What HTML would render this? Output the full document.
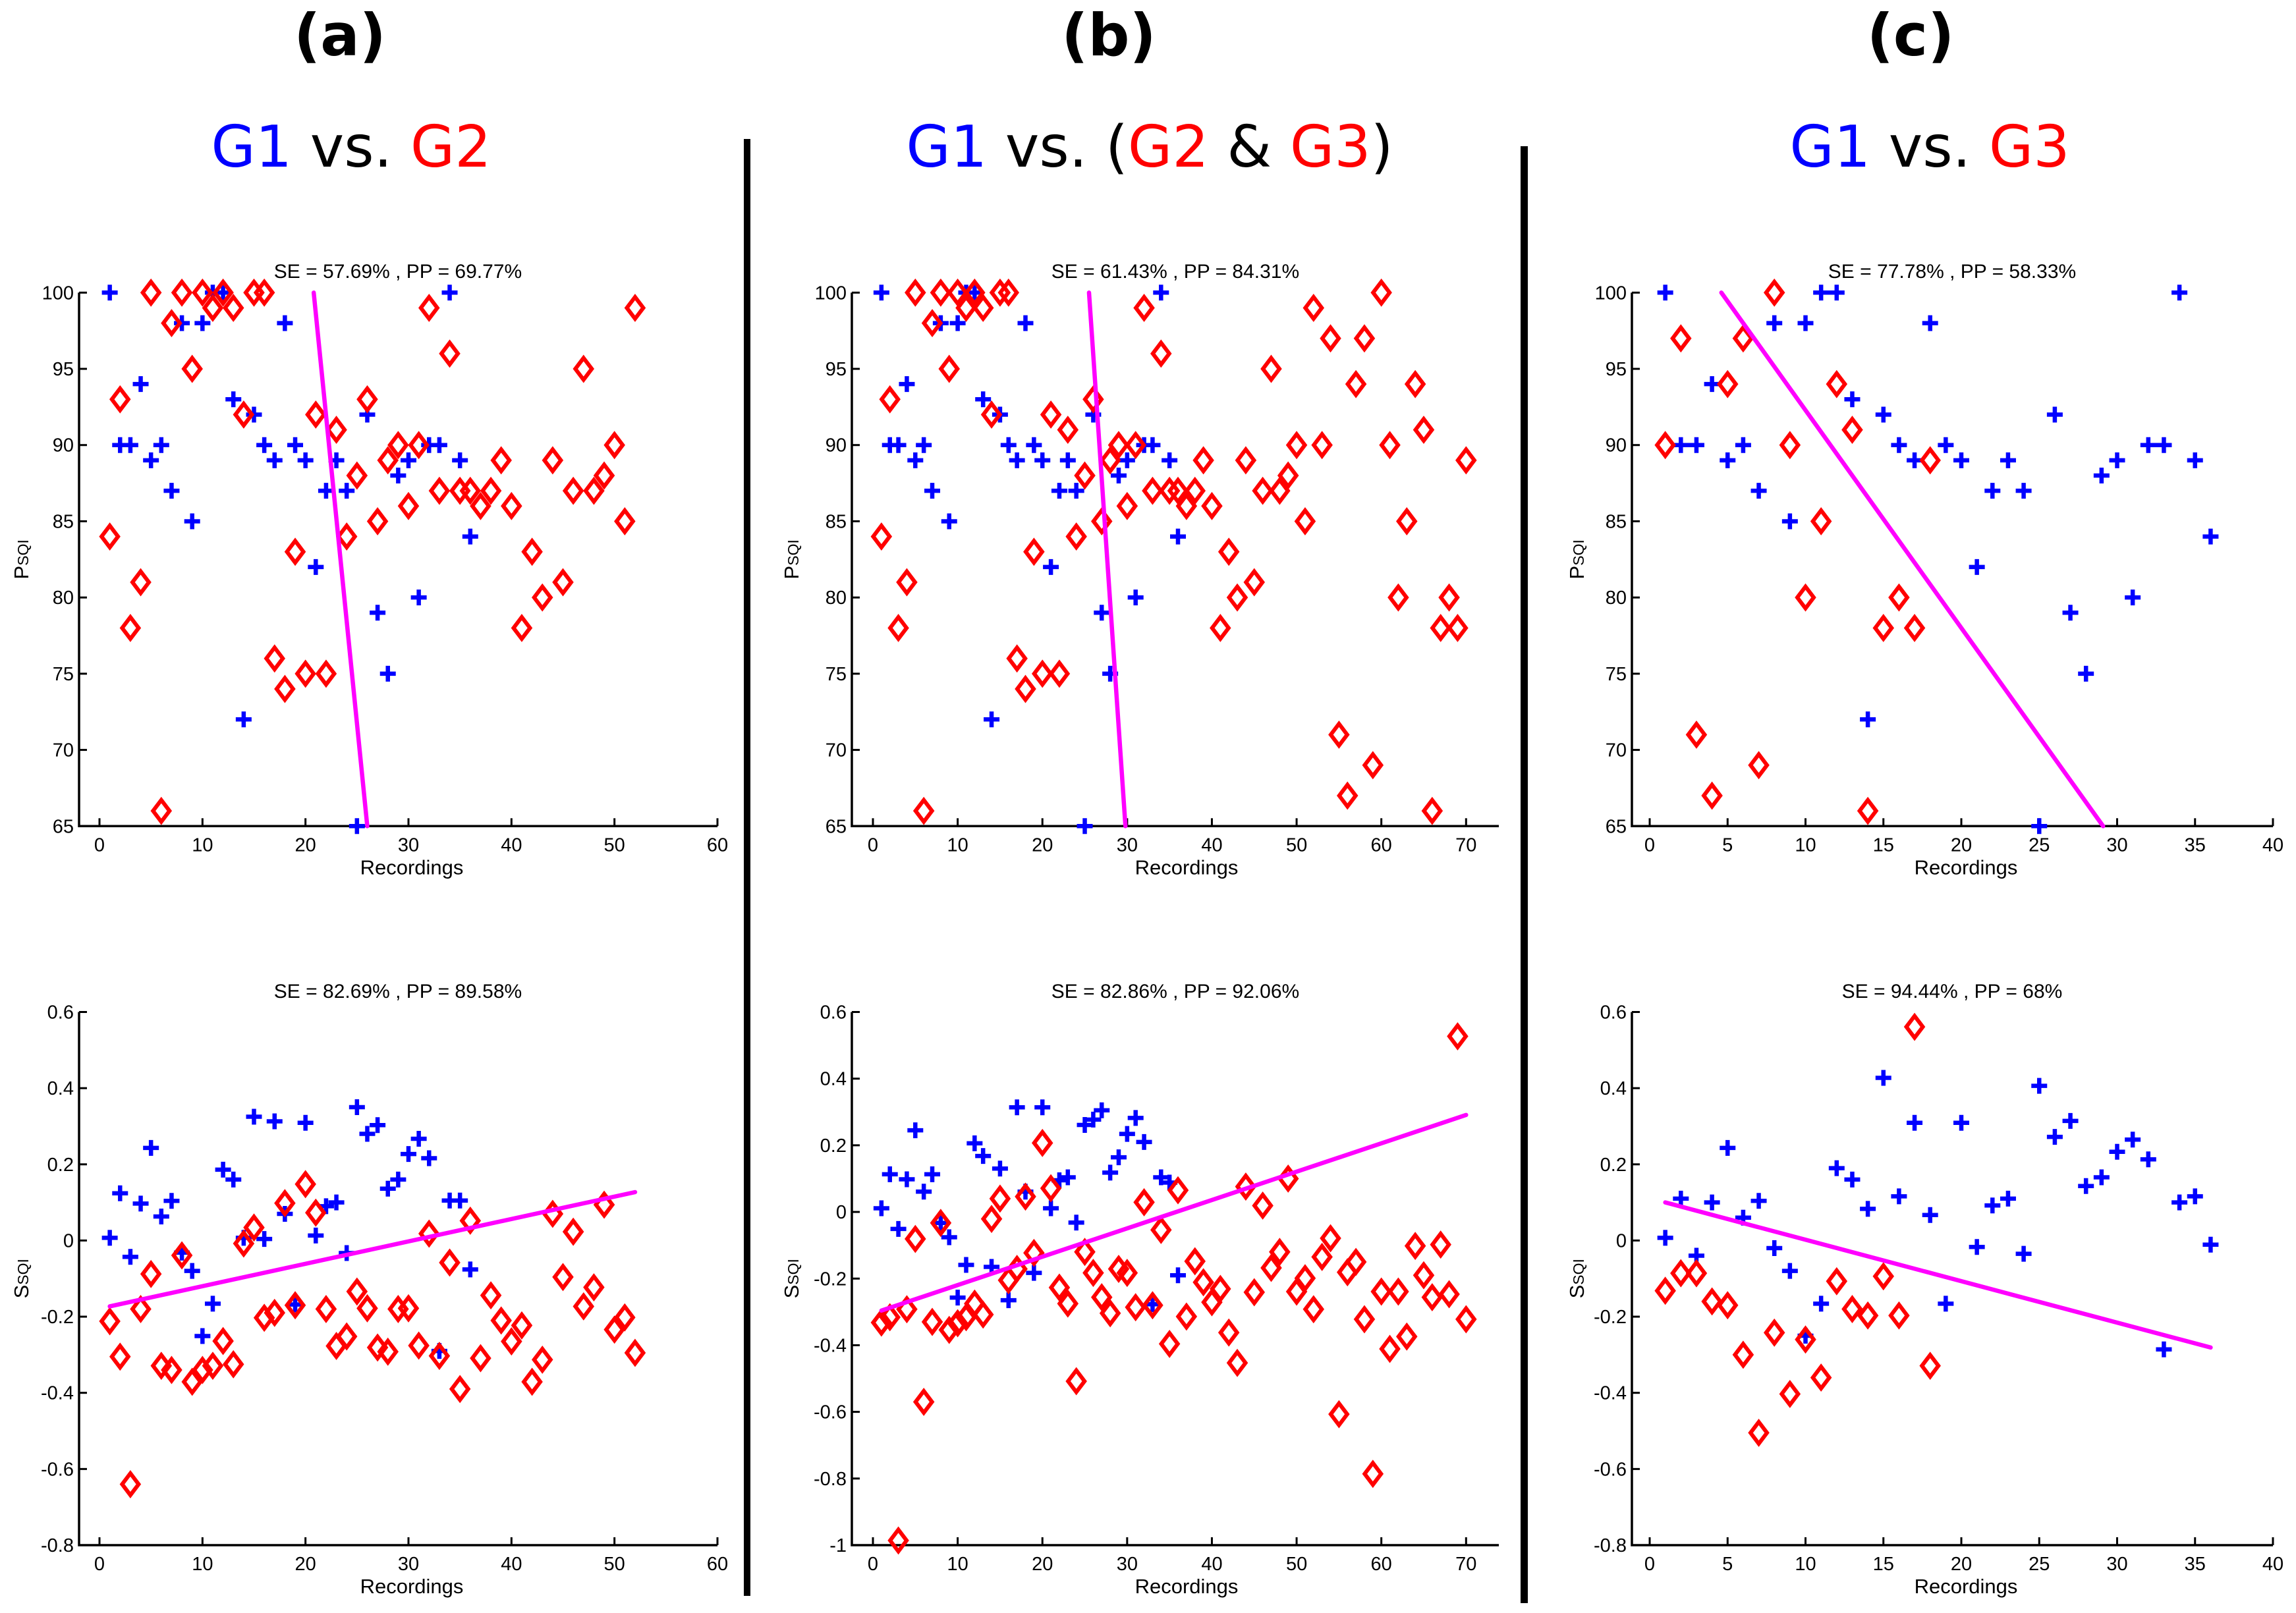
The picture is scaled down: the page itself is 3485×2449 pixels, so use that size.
<!DOCTYPE html>
<html><head><meta charset="utf-8"><style>
html,body{margin:0;padding:0;background:#fff;}
svg{display:block;}
</style></head><body>
<svg id="fig" xmlns="http://www.w3.org/2000/svg" width="3485" height="2449" viewBox="0 0 3485 2449">
<rect x="0" y="0" width="3485" height="2449" fill="#fff"/>
<g font-family="'DejaVu Sans', sans-serif" text-anchor="middle">
<text x="516" y="84" font-size="88" font-weight="bold">(a)</text>
<text x="1683" y="84" font-size="88" font-weight="bold">(b)</text>
<text x="2900" y="84" font-size="88" font-weight="bold">(c)</text>
<text x="533" y="253" font-size="87"><tspan fill="#0000ff">G1</tspan> vs. <tspan fill="#ff0000">G2</tspan></text>
<text x="1745" y="253" font-size="87"><tspan fill="#0000ff">G1</tspan> vs. (<tspan fill="#ff0000">G2</tspan> &amp; <tspan fill="#ff0000">G3</tspan>)</text>
<text x="2929" y="253" font-size="87"><tspan fill="#0000ff">G1</tspan> vs. <tspan fill="#ff0000">G3</tspan></text>
</g>
<rect x="1129" y="211" width="10" height="2212" fill="#000"/>
<rect x="2308" y="222" width="11" height="2212" fill="#000"/>
</svg>
<script>
// ---- data ----
const g1Psqi = [100,90,90,94,89,90,87,98,85,98,100,100,93,72,92,90,89,98,90,89,82,87,89,87,65,92,79,75,88,89,80,90,90,100,89,84];
const g2Psqi = [84,93,78,81,100,66,98,100,95,100,99,100,99,92,100,100,76,74,83,75,92,75,91,84,88,93,85,89,90,86,90,99,87,96,87,87,86,87,89,86,78,83,80,89,81,87,95,87,88,90,85,99];
const g3Psqi = [90,97,71,67,94,97,69,100,90,80,85,94,91,66,78,80,78,89];
const g1SsqiA = [0.007,0.124,-0.043,0.097,0.243,0.063,0.104,-0.032,-0.08,-0.251,-0.166,0.186,0.16,0.007,0.325,0.004,0.313,0.07,-0.168,0.309,0.013,0.09,0.10,-0.033,0.35,0.28,0.303,0.136,0.16,0.227,0.267,0.216,-0.29,0.105,0.105,-0.076];
const g2SsqiA = [-0.212,-0.305,-0.64,-0.18,-0.088,-0.329,-0.34,-0.039,-0.371,-0.34,-0.329,-0.264,-0.325,-0.008,0.034,-0.203,-0.19,0.098,-0.17,0.148,0.073,-0.18,-0.277,-0.252,-0.134,-0.178,-0.281,-0.292,-0.18,-0.178,-0.276,0.018,-0.303,-0.058,-0.39,0.052,-0.309,-0.144,-0.21,-0.265,-0.223,-0.371,-0.313,0.07,-0.096,0.023,-0.173,-0.123,0.094,-0.234,-0.202,-0.295];
const g1SsqiB = [0.011,0.113,-0.051,0.098,0.245,0.061,0.113,-0.033,-0.076,-0.257,-0.159,0.206,0.168,-0.165,0.13,-0.265,0.314,0.061,-0.183,0.314,0.011,0.095,0.104,-0.032,0.261,0.277,0.305,0.118,0.164,0.234,0.282,0.21,-0.277,0.104,0.088,-0.19];
const g23SsqiB = [-0.332,-0.316,-0.986,-0.292,-0.081,-0.57,-0.33,-0.033,-0.354,-0.334,-0.316,-0.275,-0.308,-0.021,0.04,-0.205,-0.171,0.046,-0.123,0.207,0.071,-0.227,-0.275,-0.508,-0.12,-0.183,-0.256,-0.304,-0.171,-0.183,-0.286,0.029,-0.28,-0.054,-0.396,0.065,-0.314,-0.148,-0.211,-0.271,-0.231,-0.362,-0.453,0.076,-0.241,0.019,-0.168,-0.12,0.1,-0.239,-0.199,-0.292,-0.135,-0.079,-0.607,-0.181,-0.15,-0.322,-0.786,-0.239,-0.411,-0.239,-0.374,-0.102,-0.19,-0.256,-0.098,-0.247,0.527,-0.322];
const g1SsqiC = [0.007,0.11,-0.04,0.10,0.243,0.06,0.104,-0.02,-0.08,-0.25,-0.166,0.19,0.16,0.083,0.427,0.116,0.309,0.067,-0.166,0.309,-0.017,0.092,0.11,-0.035,0.406,0.272,0.314,0.143,0.166,0.233,0.265,0.213,-0.286,0.10,0.116,-0.011];
const g3SsqiC = [-0.132,-0.086,-0.086,-0.16,-0.17,-0.30,-0.505,-0.242,-0.403,-0.26,-0.36,-0.107,-0.18,-0.197,-0.094,-0.197,0.561,-0.329];
const fitTopA = [[20.8,100],[26,65]];
const fitTopB = [[25.5,100],[29.8,65]];
const fitTopC = [[4.6,100],[29.1,65]];
const fitBotA = [[1,-0.173],[52,0.127]];
const fitBotB = [[1,-0.296],[70,0.291]];
const fitBotC = [[1,0.1],[36,-0.281]];
const titles = ["SE = 57.69% , PP = 69.77%","SE = 61.43% , PP = 84.31%","SE = 77.78% , PP = 58.33%","SE = 82.69% , PP = 89.58%","SE = 82.86% , PP = 92.06%","SE = 94.44% , PP = 68%"];
const g2g3Psqi = g2Psqi.concat(g3Psqi);

const NS = "http://www.w3.org/2000/svg";
const svgRoot = document.getElementById('fig');
function mk(tag, attrs, parent){ const e=document.createElementNS(NS,tag); for(const k in attrs) e.setAttribute(k,attrs[k]); (parent||svgRoot).appendChild(e); return e; }

function fmt(v){ if(Math.abs(v)<1e-9) return "0"; return (Math.round(v*10)/10).toString(); }

function panel(cfg){
  const g = mk('g',{});
  
  
  const xs = v => cfg.x0 + v*cfg.xu;
  const ys = v => cfg.yTop + (cfg.yMax - v)/(cfg.yMax - cfg.yMin)*(cfg.yBot - cfg.yTop);
  const ax = mk('path',{d:`M${cfg.axL},${cfg.yTop} L${cfg.axL},${cfg.yBot} L${cfg.axR},${cfg.yBot}`,fill:'none',stroke:'#000','stroke-width':3.5},g);
  
  
  for(let t=0;t<=cfg.xMaxTick+1e-9;t+=cfg.xStep){
    const X=xs(t);
    const tk=mk('line',{x1:X,x2:X,y1:cfg.yBot,y2:cfg.yBot-12,stroke:'#000','stroke-width':3},g);
    
    
    const tl=mk('text',{x:X,y:cfg.yBot+38,'font-size':29,'font-family':'Liberation Sans, sans-serif','text-anchor':'middle'},g);
    tl.textContent=String(t);
    
    
  }
  const n=Math.round((cfg.yMax-cfg.yMin)/cfg.yStep);
  for(let i=0;i<=n;i++){
    const v=cfg.yMin+i*cfg.yStep; const Y=ys(v);
    const tk=mk('line',{x1:cfg.axL,x2:cfg.axL+12,y1:Y,y2:Y,stroke:'#000','stroke-width':3},g);
    
    
    const tl=mk('text',{x:cfg.axL-8,y:Y+10,'font-size':29,'font-family':'Liberation Sans, sans-serif','text-anchor':'end'},g);
    tl.textContent=cfg.intTicks?String(Math.round(v)):fmt(v);
    
    
  }
  const tt=mk('text',{x:cfg.titleX,y:cfg.titleY,'font-size':30,'font-family':'Liberation Sans, sans-serif','text-anchor':'middle'},g);
  tt.textContent=cfg.title;
  
  
  const xl=mk('text',{x:cfg.xlabX,y:cfg.yBot+73,'font-size':31,'font-family':'Liberation Sans, sans-serif','text-anchor':'middle'},g);
  xl.textContent='Recordings';
  
  
  const yc=(cfg.yTop+cfg.yBot)/2;
  const yl=mk('text',{x:cfg.ylabX,y:yc+10,'font-size':31,'font-family':'Liberation Sans, sans-serif','text-anchor':'middle',transform:`rotate(-90 ${cfg.ylabX} ${yc})`},g);
  
  
  const t1=mk('tspan',{},yl); t1.textContent=cfg.ylab[0];
  const t2=mk('tspan',{'font-size':23},yl); t2.textContent=cfg.ylab.slice(1);
  cfg.blue.forEach((v,i)=>{
    const X=xs(i+1), Y=ys(v);
    const p=mk('path',{d:`M${X-12},${Y} H${X+12} M${X},${Y-12} V${Y+12}`,stroke:'#0000ff','stroke-width':6.5,fill:'none'},g);
    
    
  });
  cfg.red.forEach((v,i)=>{
    const X=xs(i+1), Y=ys(v);
    const p=mk('path',{d:`M${X},${Y-16.5} L${X+12.5},${Y} L${X},${Y+16.5} L${X-12.5},${Y} Z`,stroke:'#ff0000','stroke-width':6,fill:'none'},g);
    
    
  });
  const f=cfg.fit;
  const ln=mk('line',{x1:xs(f[0][0]),y1:ys(f[0][1]),x2:xs(f[1][0]),y2:ys(f[1][1]),stroke:'#ff00ff','stroke-width':6.5,'stroke-linecap':'round'},g);
  
  
}

const colA={x0:151,xu:(1089-151)/60,axL:120,axR:1089,xMaxTick:60,xStep:10,titleX:604,xlabX:625,ylabX:33};
const colB={x0:1325,xu:(2225.3-1325)/70,axL:1293,axR:2275,xMaxTick:70,xStep:10,titleX:1784,xlabX:1801,ylabX:1202};
const colC={x0:2504,xu:(3450-2504)/40,axL:2477,axR:3450,xMaxTick:40,xStep:5,titleX:2963,xlabX:2984,ylabX:2394};
const topCfg={yTop:444.3,yBot:1254.3,yMin:65,yMax:100,yStep:5,intTicks:true,titleY:422,ylab:'PSQI'};
const botCfg={yTop:1536.5,yBot:2346,yMax:0.6,yStep:0.2,intTicks:false,titleY:1515,ylab:'SSQI'};

panel(Object.assign({},colA,topCfg,{name:'panel-a-psqi',title:titles[0],blue:g1Psqi,red:g2Psqi,fit:fitTopA}));
panel(Object.assign({},colB,topCfg,{name:'panel-b-psqi',title:titles[1],blue:g1Psqi,red:g2g3Psqi,fit:fitTopB}));
panel(Object.assign({},colC,topCfg,{name:'panel-c-psqi',title:titles[2],blue:g1Psqi,red:g3Psqi,fit:fitTopC}));
panel(Object.assign({},colA,botCfg,{yMin:-0.8,name:'panel-a-ssqi',title:titles[3],blue:g1SsqiA,red:g2SsqiA,fit:fitBotA}));
panel(Object.assign({},colB,botCfg,{yMin:-1,name:'panel-b-ssqi',title:titles[4],blue:g1SsqiB,red:g23SsqiB,fit:fitBotB}));
panel(Object.assign({},colC,botCfg,{yMin:-0.8,name:'panel-c-ssqi',title:titles[5],blue:g1SsqiC,red:g3SsqiC,fit:fitBotC}));
</script>
</body></html>
